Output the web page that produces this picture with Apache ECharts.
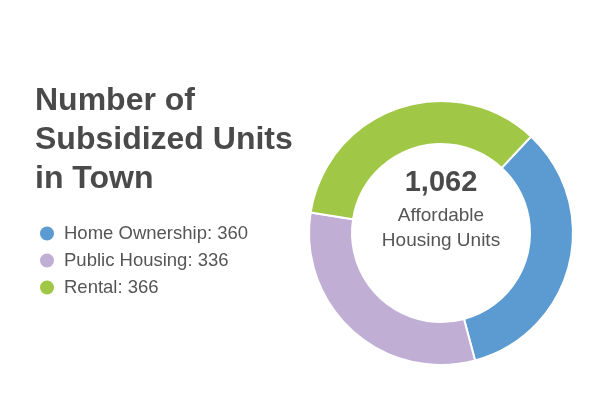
<!DOCTYPE html>
<html>
<head>
<meta charset="utf-8">
<script src="https://cdn.jsdelivr.net/npm/echarts@6/dist/echarts.min.js"></script>
<style>html,body{margin:0;padding:0;background:#fff}#chart{width:600px;height:400px}</style>
</head>
<body>
<div id="chart"></div>
<script>
var categories = ['Home Ownership', 'Public Housing', 'Rental'];
var values = [360, 336, 366];
var colors = ['#5b9bd1', '#c0aed5', '#a0c846'];

var total = values.reduce(function (a, b) { return a + b; }, 0);
var chart = echarts.init(document.getElementById('chart'));
chart.setOption({
    backgroundColor: '#fff',
    color: colors,
    title: {
        text: 'Number of\nSubsidized Units\nin Town',
        left: 30,
        top: 77,
        textStyle: {
            fontFamily: 'Arial, Liberation Sans, sans-serif',
            fontSize: 32,
            fontWeight: 'bold',
            color: '#4a4a4a',
            lineHeight: 39
        }
    },
    legend: {
        orient: 'vertical',
        left: 33,
        top: 219,
        icon: 'circle',
        itemWidth: 16,
        itemHeight: 16,
        itemGap: 8,
        selectedMode: false,
        data: categories,
        formatter: function (name) {
            return name + ': ' + values[categories.indexOf(name)];
        },
        textStyle: {
            fontFamily: 'Arial, Liberation Sans, sans-serif',
            fontSize: 18.5,
            color: '#555',
            padding: [0, 0, 0, 4]
        }
    },
    graphic: [{
        type: 'text',
        style: {
            text: total.toLocaleString('en-US'),
            x: 441,
            y: 183,
            textAlign: 'center',
            textVerticalAlign: 'middle',
            fontFamily: 'Arial, Liberation Sans, sans-serif',
            fontSize: 29,
            fontWeight: 'bold',
            fill: '#4a4a4a'
        }
    }, {
        type: 'text',
        style: {
            text: 'Affordable\nHousing Units',
            x: 441,
            y: 228,
            textAlign: 'center',
            textVerticalAlign: 'middle',
            fontFamily: 'Arial, Liberation Sans, sans-serif',
            fontSize: 19,
            lineHeight: 25,
            fill: '#555'
        }
    }],
    series: [{
        type: 'pie',
        center: [441, 233],
        radius: [89, 132],
        startAngle: 47,
        label: { show: false },
        labelLine: { show: false },
        silent: true,
        itemStyle: { borderColor: '#fff', borderWidth: 2 },
        data: categories.map(function (c, i) { return { name: c, value: values[i] }; })
    }]
});
</script>
</body>
</html>
